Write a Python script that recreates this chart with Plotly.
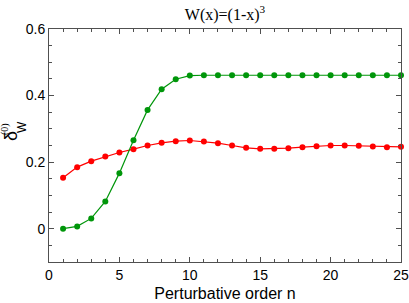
import plotly.graph_objects as go

n = list(range(1, 26))
green_vals = [0.000, 0.007, 0.031, 0.082, 0.167, 0.266, 0.357, 0.419, 0.449, 0.460,
              0.461, 0.461, 0.461, 0.461, 0.461, 0.461, 0.461, 0.461, 0.461, 0.461,
              0.461, 0.461, 0.461, 0.461, 0.461]
red_vals = [0.153, 0.185, 0.203, 0.217, 0.229, 0.239, 0.250, 0.258, 0.263, 0.265,
            0.262, 0.257, 0.250, 0.243, 0.240, 0.240, 0.242, 0.245, 0.248, 0.250,
            0.250, 0.249, 0.247, 0.245, 0.246]

GREEN = "#00960a"
RED = "#ff0000"
AX = "#505050"

fig = go.Figure()
fig.add_trace(go.Scatter(x=n, y=red_vals, mode="lines+markers",
                         line=dict(color=RED, width=1.2),
                         marker=dict(color=RED, size=6), cliponaxis=False))
fig.add_trace(go.Scatter(x=n, y=green_vals, mode="lines+markers",
                         line=dict(color=GREEN, width=1.2),
                         marker=dict(color=GREEN, size=6), cliponaxis=False))

L, R, T, B = 49, 8, 29, 41
W, H = 409, 303
pw, ph = W - L - R, H - T - B

def px(x):
    return (x - L) / pw

def py(y):
    return (H - B - y) / ph

fig.update_layout(
    width=W, height=H,
    margin=dict(l=L, r=R, t=T, b=B, autoexpand=False),
    paper_bgcolor="white", plot_bgcolor="white",
    showlegend=False,
    font=dict(family="Liberation Sans, Arial, sans-serif", size=14, color="black"),
    title=dict(text="W(x)=(1-x)<sup>3</sup>", x=px(225), xanchor="center",
               xref="paper", yref="container",
               y=1 - 14 / H, yanchor="middle", automargin=False,
               font=dict(family="Liberation Serif, Times New Roman, serif", size=16)),
    xaxis=dict(range=[0, 25], dtick=5, tick0=0, showgrid=False, zeroline=False,
               automargin=False,
               showline=True, linecolor=AX, linewidth=1, mirror="allticks",
               ticks="inside", ticklen=5, tickcolor=AX, tickwidth=1,
               minor=dict(dtick=1, ticks="inside", ticklen=3, tickcolor=AX, showgrid=False),
               title=dict(text="Perturbative order n", font=dict(size=16), standoff=6),
               tickfont=dict(size=14)),
    yaxis=dict(range=[-0.1, 0.6], dtick=0.2, tick0=0, showgrid=False, zeroline=False,
               automargin=False,
               showline=True, linecolor=AX, linewidth=1, mirror="allticks",
               ticks="inside", ticklen=5, tickcolor=AX, tickwidth=1,
               minor=dict(dtick=0.05, ticks="inside", ticklen=3, tickcolor=AX, showgrid=False),
               tickformat="~g", tickfont=dict(size=14)),
)

fig.add_annotation(text="δ", textangle=-90, xref="paper", yref="paper",
                   x=px(11), y=py(136), showarrow=False, xanchor="center", yanchor="middle",
                   font=dict(size=18, family="Liberation Sans, Arial, sans-serif"))
fig.add_annotation(text="W", textangle=-90, xref="paper", yref="paper",
                   x=px(21.5), y=py(127.5), showarrow=False, xanchor="center", yanchor="middle",
                   font=dict(size=12, family="Liberation Sans, Arial, sans-serif"))
fig.add_annotation(text="(0)", textangle=-90, xref="paper", yref="paper",
                   x=px(5), y=py(129), showarrow=False, xanchor="center", yanchor="middle",
                   font=dict(size=10, family="Liberation Serif, Times New Roman, serif"))

fig.write_html("out.html", config={"displayModeBar": False},
               post_script="document.body.style.margin='0';document.body.style.overflow='hidden';")
